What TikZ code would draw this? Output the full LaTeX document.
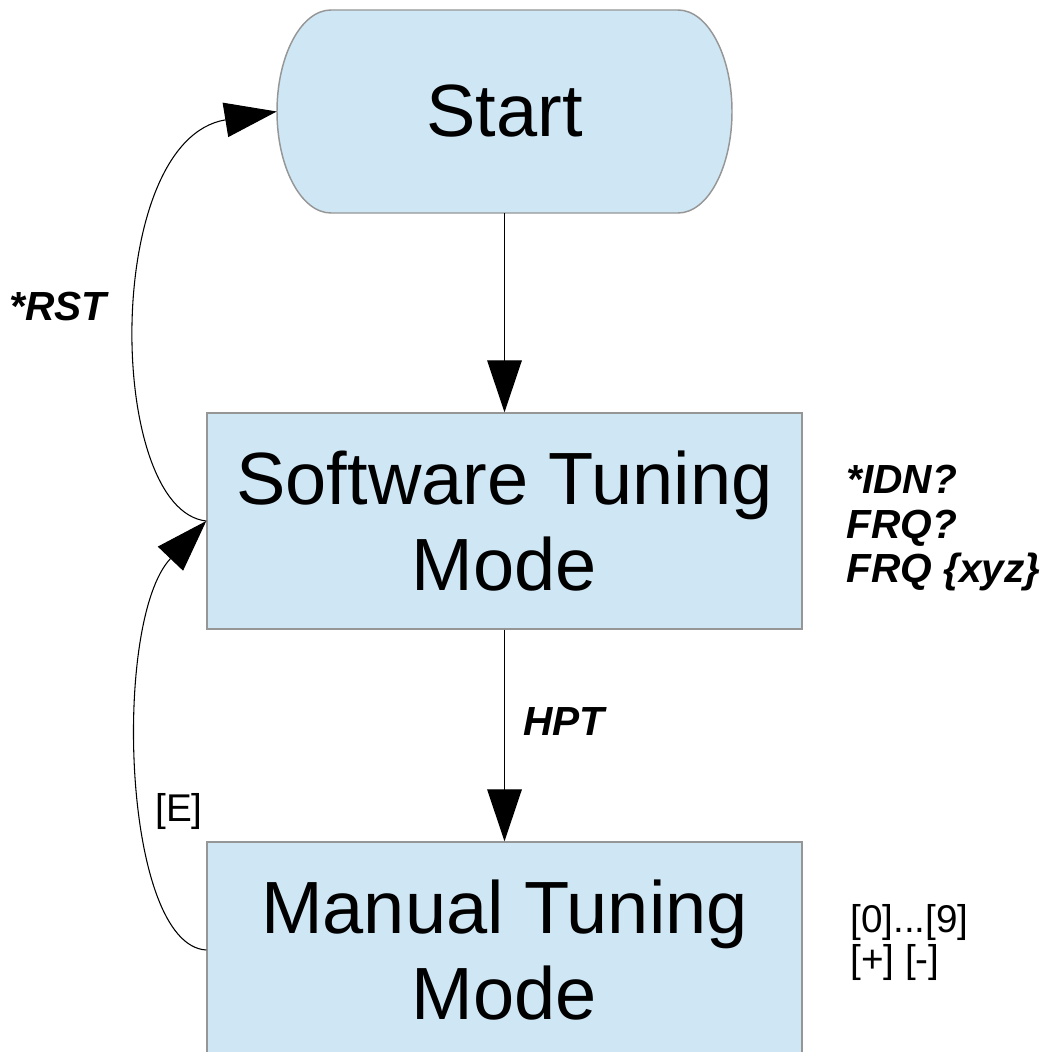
\documentclass[tikz,border=0pt]{standalone}
\usepackage{fontspec}
\setmainfont{Liberation Sans}
\usetikzlibrary{arrows.meta}
\definecolor{boxfill}{RGB}{207,231,245}
\definecolor{boxline}{RGB}{150,150,150}
\begin{document}
\begin{tikzpicture}[x=0.75pt,y=-0.75pt,
  box/.style={draw=boxline, line width=1.1pt, fill=boxfill, rectangle,
    minimum width=446.25pt, minimum height=162pt, inner sep=0pt, align=center,
    font=\fontsize{55.5}{65}\selectfont},
  tipend/.style={-{Triangle[length=39pt,width=26pt]}},
  flow/.style={tipend, draw=black, line width=0.9pt},
  loopline/.style={tipend, draw=black, line width=0.8pt},
  lbl/.style={font=\fontsize{30.5}{36}\selectfont\bfseries\itshape, inner sep=0pt, anchor=base west},
  key/.style={font=\fontsize{29}{36}\selectfont, inner sep=0pt, anchor=base west}]
\useasboundingbox (0,0) rectangle (1049,1052);
\clip (0,0) rectangle (1049,1052);
% start terminal shape
\path[draw=boxline, line width=1.1pt, fill=boxfill]
  (331,10) -- (678,10) .. controls (708,10) and (732,56) .. (732,111.5)
  .. controls (732,167) and (708,213) .. (678,213) -- (331,213)
  .. controls (301,213) and (277,167) .. (277,111.5)
  .. controls (277,56) and (301,10) .. (331,10) -- cycle;
\node (start) at (504.5,111.5) [minimum width=341.25pt, minimum height=152.25pt,
  inner sep=0pt, font=\fontsize{55.5}{65}\selectfont] {Start};
\node[box] (soft) at (504.5,521) {Software Tuning\\Mode};
\node[box] (man) at (504.5,950) {Manual Tuning\\Mode};
% connectors
\draw[flow] (start.south) -- (soft.north);
\draw[flow] (soft.south) -- (man.north);
\draw[loopline] (soft.west) .. controls (106,510) and (102,140) .. (start.west);
\draw[loopline] (man.west) .. controls (122,945) and (112,620) .. (soft.west);
% labels
\node[lbl] (rst) at (9,320) {*RST};
\node[lbl] (hpt) at (523,735) {HPT};
\node[key] (e) at (155,821) {[E]};
\node[lbl] (idn) at (846,493) {*IDN?};
\node[lbl] (frq) at (846,538) {FRQ?};
\node[lbl] (frqset) at (846,582) {FRQ \{xyz\}};
\node[key] (digits) at (850,932) {[0]...[9]};
\node[key] (plusminus) at (850,972) {[+] [-]};
\end{tikzpicture}
\end{document}
